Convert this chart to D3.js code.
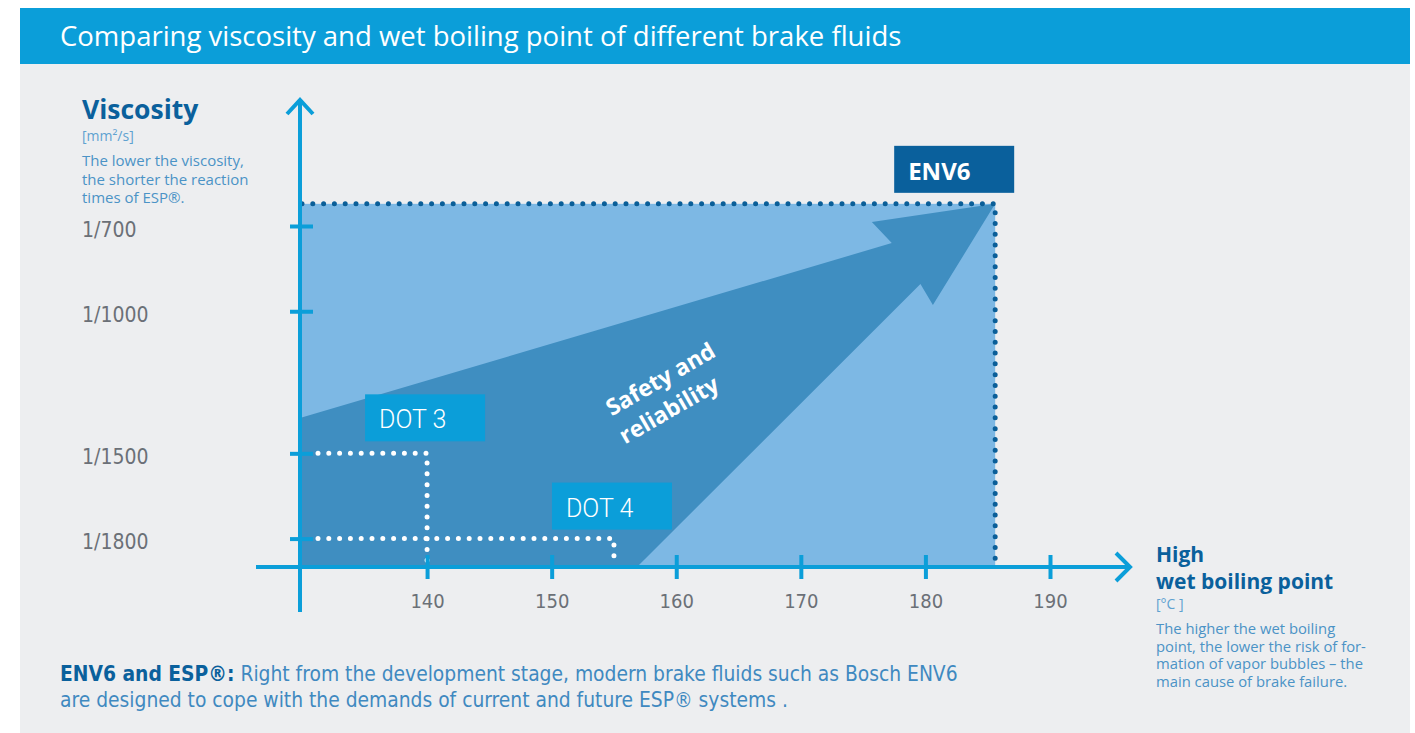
<!DOCTYPE html>
<html>
<head>
<meta charset="utf-8">
<script src="https://cdn.jsdelivr.net/npm/d3@7"></script>
<style>
  body { margin: 0; background: #ffffff; }
  svg { display: block; }
</style>
</head>
<body>
<script>
// Brake fluids: wet boiling point (°C) vs viscosity (1/x mm²/s)

var fluids = ["DOT 3", "DOT 4", "ENV6"];
var boilingPoint = [140, 155, 185.6];
var viscosityDenom = [1500, 1800, 622];

var xTicks = [140, 150, 160, 170, 180, 190];
var yTicks = [700, 1000, 1500, 1800];
var yTickLabels = ["1/700", "1/1000", "1/1500", "1/1800"];

// outline of the big "safety and reliability" arrow, in chart units [°C, denominator]
var arrowOutline = [
  [129.8, 1376], [177.3, 760], [175.7, 686], [185.6, 622],
  [180.6, 978], [179.6, 904], [156.85, 1900], [129.8, 1900]
];

var svgWidth = 1415;
var svgHeight = 733;

var svg = d3.select("body")
  .append("svg")
  .attr("width", svgWidth)
  .attr("height", svgHeight);

var blue = "#0b9ed9";
var darkBlue = "#0a609c";
var textBlue = "#4b93c6";
var narrow = "'Liberation Sans Narrow', 'DejaVu Sans Condensed', Roboto, sans-serif";
var sans = "'Open Sans', 'Noto Sans', sans-serif";

// background panel + title bar
svg.append("rect")
  .attr("x", 20).attr("y", 8)
  .attr("width", 1390).attr("height", 725)
  .attr("fill", "#edeef0");

svg.append("rect")
  .attr("x", 20).attr("y", 8)
  .attr("width", 1390).attr("height", 56)
  .attr("fill", blue);

svg.append("text")
  .attr("x", 60).attr("y", 46)
  .attr("fill", "#ffffff")
  .style("font-family", sans)
  .style("font-size", "27.5px")
  .text("Comparing viscosity and wet boiling point of different brake fluids");

// scales
var xScale = d3.scaleLinear()
  .domain([129.8, 190])
  .range([300, 1050]);

var yScale = d3.scaleLinear()
  .domain([1900, 700])
  .range([567, 226]);

var x0 = xScale(129.8);
var y0 = yScale(1900);

var chartGroup = svg.append("g");

// light blue field up to ENV6
chartGroup.append("rect")
  .attr("x", x0)
  .attr("y", yScale(viscosityDenom[2]))
  .attr("width", xScale(boilingPoint[2]) - x0)
  .attr("height", y0 - yScale(viscosityDenom[2]))
  .attr("fill", "#7db8e4");

// darker arrow
chartGroup.append("path")
  .attr("d", d3.line().x(d => xScale(d[0])).y(d => yScale(d[1]))(arrowOutline) + "Z")
  .attr("fill", "#3f8ec1");

// dotted guides
var guideColor = ["#ffffff", "#ffffff", "#0a5e98"];
fluids.forEach(function(f, i) {
  var px = xScale(boilingPoint[i]);
  var py = yScale(viscosityDenom[i]);
  var startX = i == 2 ? x0 + 2 : x0 + 18;
  chartGroup.append("path")
    .attr("d", `M${startX},${py}H${px}V${y0 - 6}`)
    .attr("fill", "none")
    .attr("stroke", guideColor[i])
    .attr("stroke-width", 5)
    .attr("stroke-linecap", "round")
    .attr("stroke-dasharray", "0 10.8");
});

// axes
var bottomAxis = d3.axisBottom(xScale)
  .tickValues(xTicks)
  .tickSize(12)
  .tickPadding(15)
  .tickFormat(d3.format("d"));

var leftAxis = d3.axisLeft(yScale)
  .tickValues(yTicks)
  .tickSize(10)
  .tickFormat((d, i) => yTickLabels[i]);

var xAxis = chartGroup.append("g")
  .attr("transform", `translate(0, ${y0})`)
  .call(bottomAxis);
xAxis.select(".domain").remove();
xAxis.selectAll("line")
  .attr("y1", -12).attr("y2", 12)
  .attr("stroke", blue).attr("stroke-width", 4);
xAxis.selectAll("text")
  .attr("fill", "#6b7077")
  .style("font-family", narrow)
  .style("font-size", "20px");

var yAxis = chartGroup.append("g")
  .attr("transform", `translate(${x0}, 0)`)
  .call(leftAxis);
yAxis.select(".domain").remove();
yAxis.selectAll("line")
  .attr("x1", -10).attr("x2", 13)
  .attr("stroke", blue).attr("stroke-width", 4);
yAxis.selectAll("text")
  .attr("x", 82 - x0)
  .attr("dy", "0.48em")
  .attr("text-anchor", "start")
  .attr("fill", "#6b7077")
  .style("font-family", narrow)
  .style("font-size", "21px");

// axis lines with open arrowheads
chartGroup.append("path")
  .attr("d", `M${x0},612V100M${x0 - 13},114L${x0},100L${x0 + 13},114`)
  .attr("fill", "none").attr("stroke", blue)
  .attr("stroke-width", 4).attr("stroke-linejoin", "miter");

chartGroup.append("path")
  .attr("d", `M256,${y0}H1130M1116,${y0 - 14}L1130,${y0}L1116,${y0 + 14}`)
  .attr("fill", "none").attr("stroke", blue)
  .attr("stroke-width", 4).attr("stroke-linejoin", "miter");

// fluid labels (box offsets from the point: left, top)
var boxOffset = [[-62, -59], [-62, -56], [-101, -58]];
var boxFill = [blue, blue, darkBlue];
fluids.forEach(function(f, i) {
  var px = xScale(boilingPoint[i]);
  var py = yScale(viscosityDenom[i]);
  var bx = px + boxOffset[i][0];
  var by = py + boxOffset[i][1];
  chartGroup.append("rect")
    .attr("x", bx).attr("y", by)
    .attr("width", 120).attr("height", 47)
    .attr("fill", boxFill[i]);
  chartGroup.append("text")
    .attr("x", bx + 14).attr("y", by + 34)
    .attr("fill", "#ffffff")
    .style("font-family", i == 2 ? sans : "Roboto, sans-serif")
    .style("font-weight", i == 2 ? 700 : 300)
    .style("font-size", i == 2 ? "24px" : "25px")
    .text(f);
});

// arrow caption
var cap = chartGroup.append("g")
  .attr("transform", "translate(665,395) rotate(-30)")
  .attr("fill", "#ffffff")
  .attr("text-anchor", "middle")
  .style("font-family", sans)
  .style("font-weight", 700)
  .style("font-size", "23px");
cap.append("text").attr("x", 4).attr("y", -8).text("Safety and");
cap.append("text").attr("x", -4).attr("y", 23).text("reliability");

// y axis title
svg.append("text")
  .attr("x", 82).attr("y", 119)
  .attr("fill", darkBlue)
  .style("font-family", sans).style("font-weight", 700).style("font-size", "26.5px")
  .text("Viscosity");
svg.append("text")
  .attr("x", 82).attr("y", 141)
  .attr("fill", "#5fa2d0")
  .style("font-family", sans).style("font-size", "14px")
  .text("[mm²/s]");
["The lower the viscosity,", "the shorter the reaction", "times of ESP®."].forEach(function(t, i) {
  svg.append("text")
    .attr("x", 82).attr("y", 166 + i * 18.5)
    .attr("fill", textBlue)
    .style("font-family", sans).style("font-size", "15px")
    .text(t);
});

// x axis title
svg.append("text")
  .attr("x", 1156).attr("y", 562)
  .attr("fill", darkBlue)
  .style("font-family", sans).style("font-weight", 700).style("font-size", "21px")
  .text("High");
svg.append("text")
  .attr("x", 1156).attr("y", 589)
  .attr("fill", darkBlue)
  .style("font-family", sans).style("font-weight", 700).style("font-size", "21px")
  .text("wet boiling point");
svg.append("text")
  .attr("x", 1156).attr("y", 609)
  .attr("fill", "#5fa2d0")
  .style("font-family", sans).style("font-size", "14px")
  .text("[°C ]");
["The higher the wet boiling", "point, the lower the risk of for-", "mation of vapor bubbles – the", "main cause of brake failure."].forEach(function(t, i) {
  svg.append("text")
    .attr("x", 1156).attr("y", 634 + i * 17.7)
    .attr("fill", textBlue)
    .style("font-family", sans).style("font-size", "14.8px")
    .text(t);
});

// footnote
var note = svg.append("text")
  .attr("x", 60).attr("y", 681)
  .attr("fill", "#3f89c0")
  .style("font-family", narrow).style("font-size", "20.8px");
note.append("tspan")
  .attr("fill", darkBlue).style("font-weight", 700)
  .text("ENV6 and ESP®:");
note.append("tspan")
  .text(" Right from the development stage, modern brake fluids such as Bosch ENV6");
svg.append("text")
  .attr("x", 60).attr("y", 707)
  .attr("fill", "#3f89c0")
  .style("font-family", narrow).style("font-size", "20.8px")
  .text("are designed to cope with the demands of current and future ESP® systems .");
</script>
</body>
</html>
